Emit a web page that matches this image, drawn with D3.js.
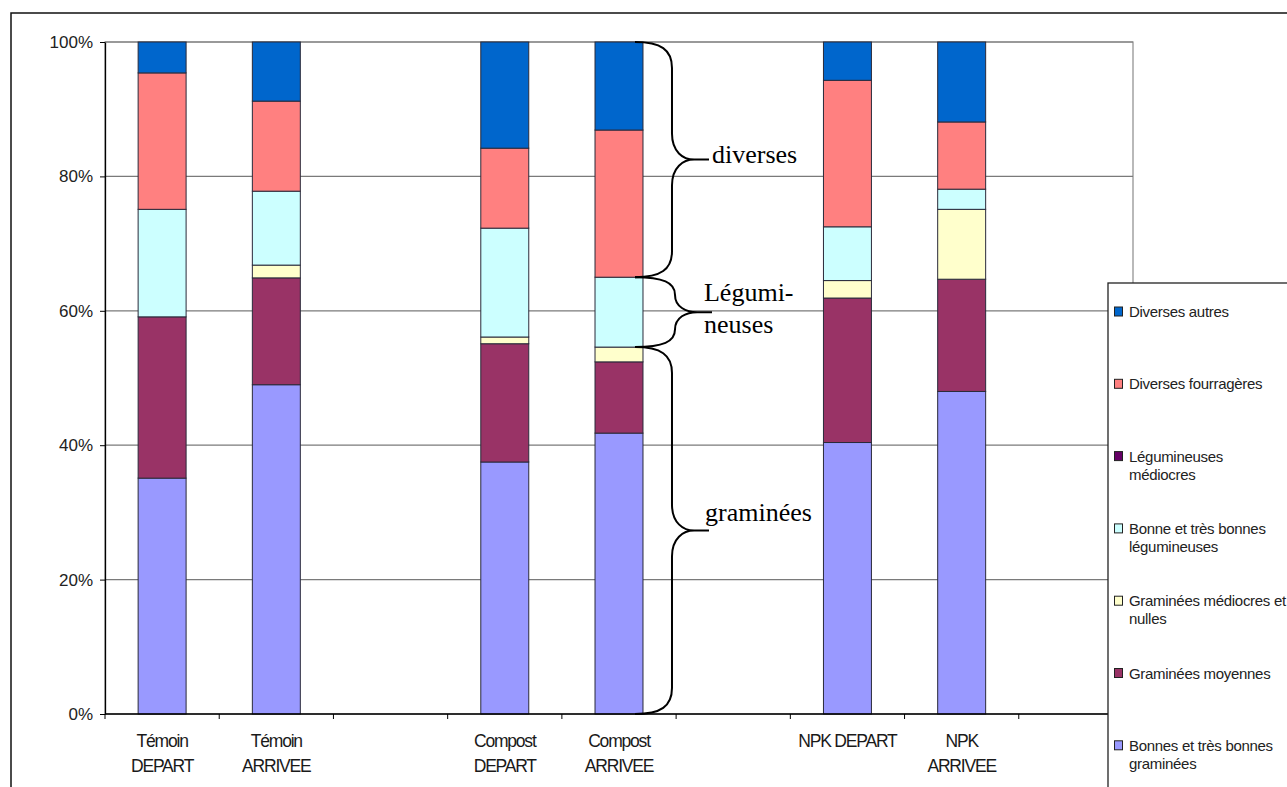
<!DOCTYPE html>
<html>
<head>
<meta charset="utf-8">
<script src="https://cdn.jsdelivr.net/npm/d3@7"></script>
<style>
  html, body { margin: 0; padding: 0; background: #fff; overflow: hidden; }
  svg { display: block; }
</style>
</head>
<body>
<svg id="chart" width="1287" height="787"></svg>
<script>
// ---------- DATA ----------
// x slots (blank strings are empty gaps between groups)
const categories = ["Témoin\nDEPART", "Témoin\nARRIVEE", "", "Compost\nDEPART", "Compost\nARRIVEE", "", "NPK DEPART", "NPK\nARRIVEE", ""];
const seriesNames = [
  "Bonnes et très bonnes graminées",
  "Graminées moyennes",
  "Graminées médiocres et nulles",
  "Bonne et très bonnes légumineuses",
  "Légumineuses médiocres",
  "Diverses fourragères",
  "Diverses autres"
];
const legendLines = [
  ["Bonnes et très bonnes", "graminées"],
  ["Graminées moyennes"],
  ["Graminées médiocres et", "nulles"],
  ["Bonne et très bonnes", "légumineuses"],
  ["Légumineuses", "médiocres"],
  ["Diverses fourragères"],
  ["Diverses autres"]
];
const bonnesGraminees   = [35.1, 49.0, null, 37.5, 41.8, null, 40.4, 48.0, null];
const gramineesMoyennes = [24.0, 15.9, null, 17.6, 10.6, null, 21.5, 16.7, null];
const gramineesMediocres= [0.0,  1.9,  null, 1.0,  2.2,  null, 2.6,  10.4, null];
const bonnesLegumineuses= [16.0, 11.0, null, 16.2, 10.4, null, 8.0,  3.0,  null];
const legumineusesMed   = [0.0,  0.0,  null, 0.0,  0.0,  null, 0.0,  0.0,  null];
const diversesFourrag   = [20.3, 13.4, null, 11.9, 21.9, null, 21.8, 10.0, null];
const diversesAutres    = [4.6,  8.8,  null, 15.8, 13.1, null, 5.7,  11.9, null];
const yTicks = [0, 20, 40, 60, 80, 100];
const annotations = [
  { label: ["diverses"], from: 5, to: 7 },
  { label: ["Légumi-", "neuses"], from: 3, to: 5 },
  { label: ["graminées"], from: 0, to: 3 }
];
const annotatedBar = 4;

const seriesValues = [bonnesGraminees, gramineesMoyennes, gramineesMediocres,
  bonnesLegumineuses, legumineusesMed, diversesFourrag, diversesAutres];
const colors = ["#9999FF", "#993366", "#FFFFCC", "#CCFFFF", "#660066", "#FF8080", "#0066CC"];

// ---------- LAYOUT ----------
const svg = d3.select("#chart");
const plot = { left: 105, right: 1133, top: 42, bottom: 714 };

const x = d3.scaleBand().domain(d3.range(categories.length)).range([plot.left, plot.right]).paddingInner(0).paddingOuter(0);
const y = d3.scaleLinear().domain([0, 100]).range([plot.bottom, plot.top]);
const barW = x.bandwidth() * 0.42;

// outer frame
svg.append("rect").attr("x", 11).attr("y", 13).attr("width", 1400).attr("height", 900)
  .attr("fill", "#fff").attr("stroke", "#111").attr("stroke-width", 1.5);

// plot area frame
svg.append("rect").attr("x", plot.left).attr("y", plot.top)
  .attr("width", plot.right - plot.left).attr("height", plot.bottom - plot.top)
  .attr("fill", "none").attr("stroke", "#8a8a8a").attr("stroke-width", 1.2);

// gridlines
svg.append("g").selectAll("line").data(yTicks.filter(d => d > 0)).join("line")
  .attr("x1", plot.left).attr("x2", plot.right)
  .attr("y1", d => y(d)).attr("y2", d => y(d))
  .attr("stroke", "#7a7a7a").attr("stroke-width", 1.2);

// stacked bars
const table = categories.map((c, i) => {
  const row = { idx: i };
  seriesValues.forEach((arr, s) => row["s" + s] = arr[i] == null ? 0 : arr[i]);
  row.empty = seriesValues[0][i] == null;
  return row;
});
const stack = d3.stack().keys(seriesValues.map((_, s) => "s" + s));
const stacked = stack(table);

const barsG = svg.append("g");
stacked.forEach((layer, s) => {
  barsG.append("g").selectAll("rect")
    .data(layer.filter(d => !d.data.empty && (d[1] - d[0]) > 0))
    .join("rect")
    .attr("x", d => x(d.data.idx) + (x.bandwidth() - barW) / 2)
    .attr("width", barW)
    .attr("y", d => y(d[1]))
    .attr("height", d => y(d[0]) - y(d[1]))
    .attr("fill", colors[s])
    .attr("stroke", "#2a2a3a").attr("stroke-width", 1);
});

// y axis
const yAxis = svg.append("g").attr("transform", `translate(${plot.left},0)`)
  .call(d3.axisLeft(y).tickValues(yTicks).tickFormat(d => d + "%").tickSize(5).tickSizeOuter(0));
yAxis.select(".domain").attr("stroke", "#000").attr("stroke-width", 1.3);
yAxis.selectAll(".tick line").attr("stroke", "#000");
yAxis.selectAll(".tick text").attr("x", -12)
  .style("font-family", "Arial, 'Liberation Sans', sans-serif").style("font-size", "17px")
  .attr("fill", "#222");

// x axis
const xAxisG = svg.append("g");
xAxisG.append("line").attr("x1", plot.left).attr("x2", plot.right)
  .attr("y1", plot.bottom).attr("y2", plot.bottom).attr("stroke", "#000").attr("stroke-width", 1.3);
const bounds = d3.range(categories.length).map(i => x(i)).concat([x.range()[1]]);
xAxisG.selectAll("line.tk").data(bounds).join("line").attr("class", "tk")
  .attr("x1", d => d).attr("x2", d => d).attr("y1", plot.bottom).attr("y2", plot.bottom + 5)
  .attr("stroke", "#000");
categories.forEach((c, i) => {
  if (!c) return;
  const lines = c.split("\n");
  const t = xAxisG.append("text")
    .attr("x", x(i) + x.bandwidth() / 2).attr("text-anchor", "middle")
    .style("font-family", "Arial, 'Liberation Sans', sans-serif").style("font-size", "17.5px")
    .style("letter-spacing", "-1.2px").attr("fill", "#1a1a1a");
  lines.forEach((ln, k) => t.append("tspan").attr("x", x(i) + x.bandwidth() / 2)
    .attr("y", plot.bottom + 33 + k * 25).text(ln));
});

// braces annotation on the annotated bar
const cum = [0];
seriesValues.forEach(arr => cum.push(cum[cum.length - 1] + arr[annotatedBar]));
const bx0 = x(annotatedBar) + (x.bandwidth() + barW) / 2 - 8;
function bracePath(x0, y0, y1, xv, xt) {
  const ym = (y0 + y1) / 2;
  const q = Math.min(26, (y1 - y0) / 4);
  const dx = xv - x0, dt = xt - xv;
  return `M${x0},${y0} C${x0 + dx * 0.7},${y0} ${xv},${y0 + q * 0.3} ${xv},${y0 + q} ` +
         `L${xv},${ym - q} C${xv},${ym - q * 0.3} ${xv + dt * 0.3},${ym} ${xv + dt * 0.6},${ym} L${xt},${ym} ` +
         `M${xt},${ym} L${xv + dt * 0.6},${ym} C${xv + dt * 0.3},${ym} ${xv},${ym + q * 0.3} ${xv},${ym + q} ` +
         `L${xv},${y1 - q} C${xv},${y1 - q * 0.3} ${x0 + dx * 0.7},${y1} ${x0},${y1}`;
}
annotations.forEach(a => {
  const y0 = y(cum[a.to]), y1 = y(cum[a.from]);
  const ym = (y0 + y1) / 2;
  const short = (y1 - y0) < 100;
  const xv = bx0 + (short ? 40 : 37), xt = bx0 + (short ? 77 : 74);
  svg.append("path").attr("d", bracePath(bx0, y0, y1, xv, xt))
    .attr("fill", "none").attr("stroke", "#000").attr("stroke-width", 2);
  const t = svg.append("text")
    .style("font-family", "'Liberation Serif', 'Times New Roman', serif").style("font-size", "26px")
    .attr("fill", "#000");
  if (a.label.length === 1) {
    const tx = short ? xt : (a.from === 0 ? xt - 4 : xt + 3);
    t.append("tspan").attr("x", tx).attr("y", a.from === 0 ? ym - 10 : ym + 3).text(a.label[0]);
  } else {
    a.label.forEach((ln, k) => t.append("tspan").attr("x", xt - 8).attr("y", ym - 11 + k * 32).text(ln));
  }
});

// legend
const lg = svg.append("g");
lg.append("rect").attr("x", 1108).attr("y", 283).attr("width", 400).attr("height", 600)
  .attr("fill", "#fff").attr("stroke", "#222").attr("stroke-width", 1.3);
const order = d3.range(seriesNames.length).reverse();
order.forEach((s, k) => {
  const cy = 311.5 + k * 72.3;
  lg.append("rect").attr("x", 1114.5).attr("y", cy - 4.5).attr("width", 8).attr("height", 9)
    .attr("fill", colors[s]).attr("stroke", "#222").attr("stroke-width", 1);
  const t = lg.append("text")
    .style("font-family", "Arial, 'Liberation Sans', sans-serif").style("font-size", "15px")
    .style("letter-spacing", "-0.3px").attr("fill", "#222");
  legendLines[s].forEach((ln, j) => t.append("tspan").attr("x", 1129).attr("y", cy + 5.5 + j * 18).text(ln));
});
</script>
</body>
</html>
